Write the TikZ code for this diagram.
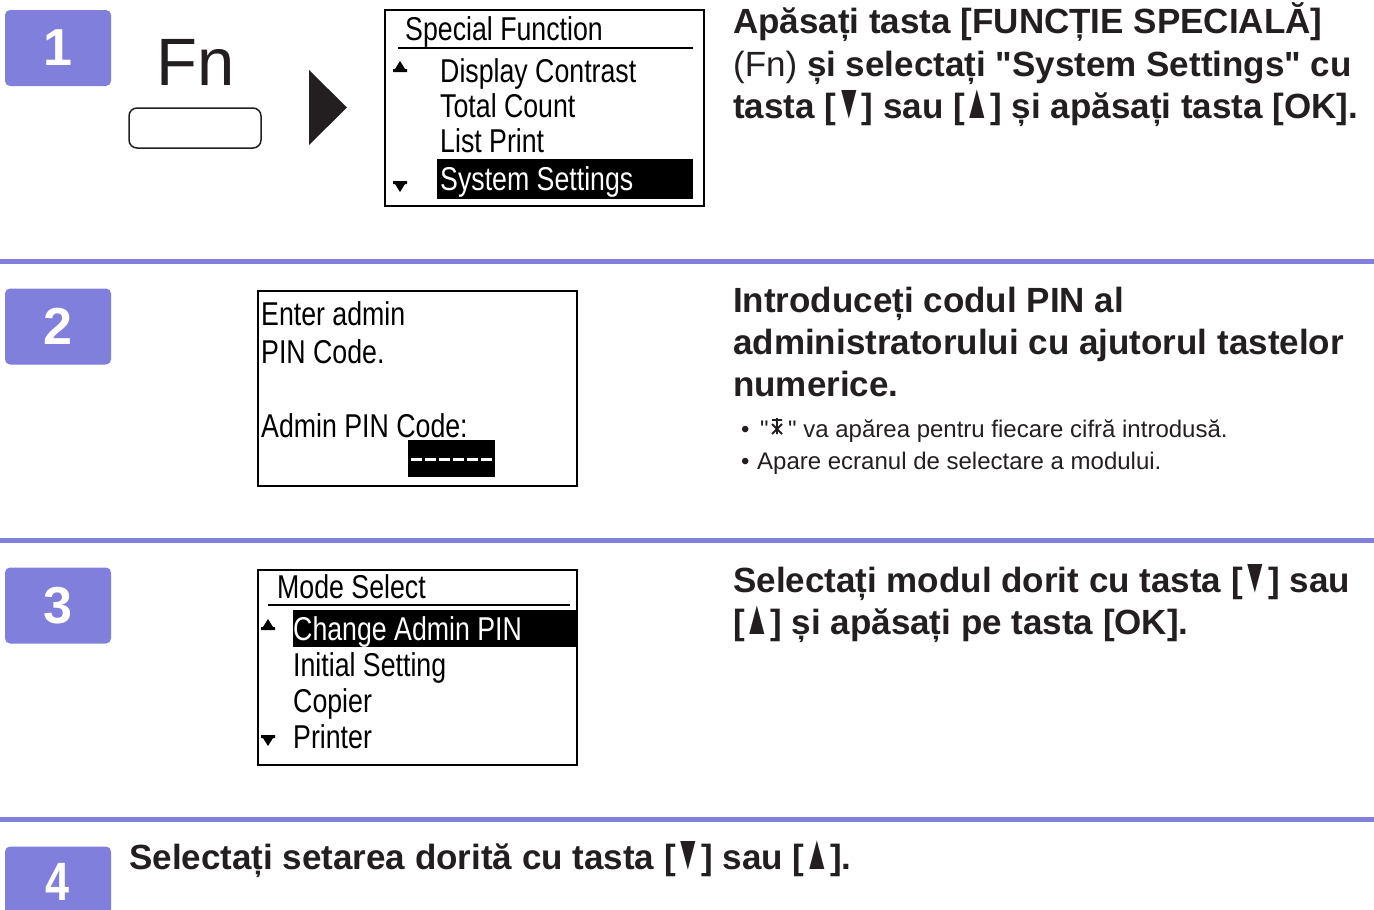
\documentclass[tikz,border=0pt]{standalone}
\usepackage{fontspec}
\usepackage{graphicx}
\setmainfont{Liberation Sans}
\newfontfamily\plainfont{Liberation Sans}
\newfontfamily\lcdfont[FakeStretch=0.81]{Liberation Sans}
\newfontfamily\narrowfont[FakeStretch=0.8]{Liberation Sans}
\definecolor{stepblue}{HTML}{8080DC}
\definecolor{ink}{HTML}{231F20}
\newcommand\dnTri{\scalebox{0.74}[1.4]{▼}}
\newcommand\upTri{\scalebox{0.74}[1.4]{▲}}
\newcommand\dq{{\plainfont"}}
\begin{document}
\begin{tikzpicture}[x=1pt,y=-1pt,
  txt/.style={inner sep=0pt, anchor=base west, text=ink},
  head/.style={txt, font=\fontsize{35}{42}\selectfont\bfseries},
  note/.style={txt, font=\fontsize{24}{30}\selectfont},
  lcd/.style={inner sep=0pt, anchor=base west, text=black, font=\lcdfont\fontsize{33}{36}\selectfont},
  lcdw/.style={lcd, text=white},
  lcdbox/.style={draw=black, line width=2.2pt, fill=white, inner sep=0pt},
  badge/.style={fill=stepblue, rounded corners=5pt, minimum width=106pt, minimum height=76pt,
    inner sep=0pt, text=white, font=\fontsize{52}{52}\selectfont\bfseries},
  badgenum/.style={inner sep=0pt, text=white, font=\narrowfont\fontsize{54}{54}\selectfont\bfseries},
  sepline/.style={draw=stepblue, line width=5pt},
  uparr/.pic={\fill[black] (0,-6) -- (5,2) -- (7,2) -- (7,5) -- (-7,5) -- (-7,2) -- (-5,2) -- cycle;},
  dnarr/.pic={\fill[black] (0,6) -- (5,-2) -- (7,-2) -- (7,-5) -- (-7,-5) -- (-7,-2) -- (-5,-2) -- cycle;}
]
\useasboundingbox (0,0) rectangle (1374,910);

% separators
\draw[sepline] (0,261) -- (1374,261);
\draw[sepline] (0,540) -- (1374,540);
\draw[sepline] (0,819) -- (1374,819);

% badges
\node[badge] (b1) at (58,48) {1};
\node[badge] (b2) at (58,326.5) {2};
\node[badge] (b3) at (58,605.5) {3};
\node[badge] (b4) at (58,884.5) {};
\node[badgenum] (b4n) at (58,882) {4};

% ---- step 1 ----
\node[txt, anchor=base, font=\fontsize{67}{67}\selectfont] (fn) at (196,85) {Fn};
\node[draw=ink, line width=1.5pt, rounded corners=8pt, minimum width=132pt, minimum height=40pt, inner sep=0pt] (fnkey) at (195,128) {};
\fill[ink] (309,70) -- (347,107.5) -- (309,145) -- cycle;

\node[lcdbox, minimum width=319pt, minimum height=196pt] (lcd1) at (544.5,108) {};
\node[lcd] (l1t) at (405,40) {Special Function};
\draw[black, line width=2pt] (398,48) -- (693,48);
\pic at (400,67) {uparr};
\node[lcd] (l1a) at (440,82) {Display Contrast};
\node[lcd] (l1b) at (440,117) {Total Count};
\node[lcd] (l1c) at (440,152) {List Print};
\fill[black] (437,159) rectangle (693,199);
\node[lcdw] (l1d) at (440,190) {System Settings};
\pic at (400,186) {dnarr};

\node[head] (h1a) at (733,34) {Apăsați tasta [FUNCȚIE SPECIALĂ]};
\node[head] (h1b) at (733,76) {{\mdseries (Fn)} și selectați \dq System Settings\dq{} cu};
\node[head] (h1c) at (733,118) {tasta [\dnTri] sau [\upTri] și apăsați tasta [OK].};

% ---- step 2 ----
\node[lcdbox, line width=2pt, minimum width=319pt, minimum height=195pt] (lcd2) at (417.5,388) {};
\node[lcd] (l2a) at (261,325) {Enter admin};
\node[lcd] (l2b) at (261,363) {PIN Code.};
\node[lcd] (l2c) at (261,437) {Admin PIN Code:};
\fill[black] (408,440) rectangle (495,477);
\draw[white, line width=3pt, dash pattern=on 11pt off 3pt] (411,459) -- (493,459);

\node[head] (h2a) at (733,312) {Introduceți codul PIN al};
\node[head] (h2b) at (733,354) {administratorului cu ajutorul tastelor};
\node[head] (h2c) at (733,396) {numerice.};

\node[note] (n1) at (741,437) {•};
\node[note] (n1q) at (760,437) {\dq};
\draw[ink, line width=1.8pt] (772,420) -- (782,420) (777,418) -- (777,434) (772,424) -- (782,434) (782,424) -- (772,434);
\node[note] (n1b) at (788,437) {\dq{} va apărea pentru fiecare cifră introdusă.};
\node[note] (n2) at (741,469) {•};
\node[note] (n2b) at (757,469) {Apare ecranul de selectare a modului.};

% ---- step 3 ----
\node[lcdbox, line width=2pt, minimum width=319pt, minimum height=195pt] (lcd3) at (417.5,667.5) {};
\node[lcd] (l3t) at (277,598) {Mode Select};
\draw[black, line width=2pt] (268,605) -- (570,605);
\fill[black] (293,610) rectangle (577,647);
\node[lcdw] (l3a) at (293,640) {Change Admin PIN};
\pic at (268,625) {uparr};
\node[lcd] (l3b) at (293,676) {Initial Setting};
\node[lcd] (l3c) at (293,712) {Copier};
\node[lcd] (l3d) at (293,748) {Printer};
\pic at (268,740) {dnarr};

\node[head] (h3a) at (733,592) {Selectați modul dorit cu tasta [\dnTri] sau};
\node[head] (h3b) at (733,634) {[\upTri] și apăsați pe tasta [OK].};

% ---- step 4 ----
\node[head] (h4) at (129,869) {Selectați setarea dorită cu tasta [\dnTri] sau [\upTri].};
\end{tikzpicture}
\end{document}
